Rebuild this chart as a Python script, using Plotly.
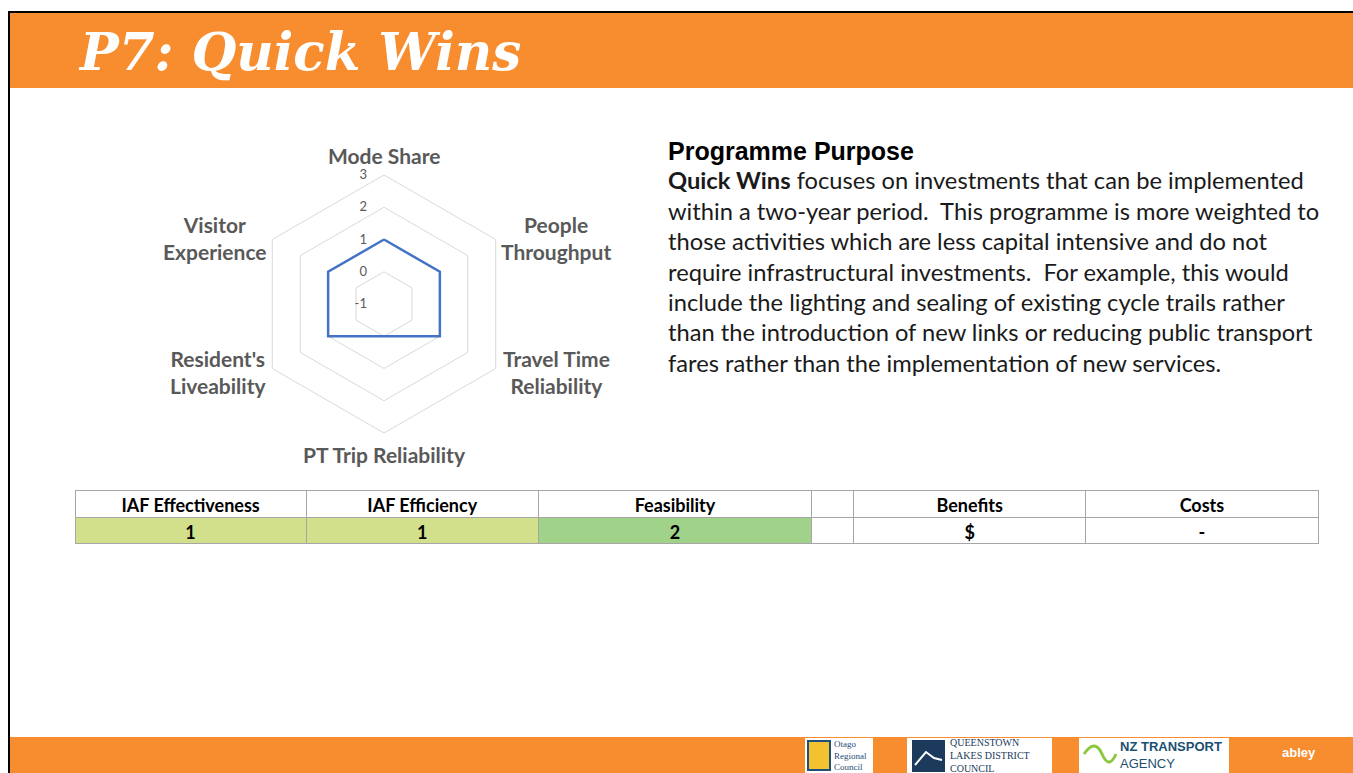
import plotly.graph_objects as go

# radar data
categories = ["Mode Share", "People Throughput", "Travel Time Reliability",
              "PT Trip Reliability", "Resident's Liveability", "Visitor Experience"]
category_labels = ["Mode Share", "People<br>Throughput", "Travel Time<br>Reliability",
                   "PT Trip Reliability", "Resident's<br>Liveability", "Visitor<br>Experience"]
scores = [1, 1, 1, 0, 1, 1]
radial_ticks = [-1, 0, 1, 2, 3]
radial_ticktext = ["-1", "0", "1", "2", "3"]

# assessment table
table_headers = ["IAF Effectiveness", "IAF Efficiency", "Feasibility", "", "Benefits", "Costs"]
table_values = ["1", "1", "2", "", "$", "-"]
table_fills = ["#d3e08b", "#d3e08b", "#a1d28a", "white", "white", "white"]

title_text = "P7: Quick Wins"
purpose_title = "Programme Purpose"
purpose_lines = [
    "<b>Quick Wins</b> focuses on investments that can be implemented",
    "within a two-year period.  This programme is more weighted to",
    "those activities which are less capital intensive and do not",
    "require infrastructural investments.  For example, this would",
    "include the lighting and sealing of existing cycle trails rather",
    "than the introduction of new links or reducing public transport",
    "fares rather than the implementation of new services.",
]

W, H = 1353, 773
ORANGE = "#f78d2f"
GREY_TXT = "#595959"


def px(x):
    return x / W


def py(y):
    return 1 - y / H


fig = go.Figure()

fig.add_trace(go.Scatterpolar(
    r=scores + scores[:1],
    theta=categories + categories[:1],
    mode="lines",
    line=dict(color="#4472c4", width=2.5),
    hoverinfo="skip",
    showlegend=False,
))

fig.add_trace(go.Table(
    domain=dict(x=[px(75), px(1318)], y=[py(545), py(490)]),
    columnwidth=[231, 232, 273, 42, 232, 232],
    header=dict(
        values=table_headers,
        fill_color="white",
        line_color="#a6a6a6",
        align="center",
        height=27,
        font=dict(family="Lato", size=18, color="black", weight="bold"),
    ),
    cells=dict(
        values=[[v] for v in table_values],
        fill_color=[[c] for c in table_fills],
        line_color="#a6a6a6",
        align="center",
        height=26,
        font=dict(family="Lato", size=18, color="black", weight="bold"),
    ),
))

fig.update_layout(
    width=W, height=H,
    margin=dict(l=0, r=0, t=0, b=0),
    paper_bgcolor="white",
    showlegend=False,
    polar=dict(
        domain=dict(x=[px(255), px(513)], y=[py(433), py(175)]),
        bgcolor="white",
        gridshape="linear",
        radialaxis=dict(
            range=[-1, 3], tickvals=radial_ticks, ticktext=radial_ticktext,
            angle=90, tickangle=90, side="counterclockwise",
            showline=False, ticks="outside", ticklen=12, tickcolor="rgba(0,0,0,0)",
            gridcolor="#d9d9d9", gridwidth=1,
            tickfont=dict(family="Lato", size=13, color=GREY_TXT),
        ),
        angularaxis=dict(
            rotation=90, direction="clockwise",
            showgrid=False, showline=True, linecolor="#d9d9d9", linewidth=1,
            ticks="", showticklabels=False,
        ),
    ),
)

# spoke labels, centred like the original chart
label_pos = [(384, 155), (556, 238), (556, 372), (384, 455), (218, 372), (215, 238)]
for lab, (lx, ly) in zip(category_labels, label_pos):
    fig.add_annotation(xref="paper", yref="paper", x=px(lx), y=py(ly), xanchor="center",
                       yanchor="middle", align="center", text=lab, showarrow=False,
                       font=dict(family="Lato", size=21, color=GREY_TXT, weight="bold"))

# slide frame, header and footer bars
fig.add_shape(type="rect", xref="paper", yref="paper", x0=px(10), x1=1, y0=py(88), y1=py(13),
              fillcolor=ORANGE, line_width=0, layer="below")
fig.add_shape(type="rect", xref="paper", yref="paper", x0=px(10), x1=1, y0=0, y1=py(737),
              fillcolor=ORANGE, line_width=0, layer="below")
fig.add_shape(type="line", xref="paper", yref="paper", x0=px(8), x1=1, y0=py(12), y1=py(12),
              line=dict(color="black", width=2))
fig.add_shape(type="line", xref="paper", yref="paper", x0=px(9), x1=px(9), y0=0, y1=py(12),
              line=dict(color="black", width=2))

fig.add_annotation(xref="paper", yref="paper", x=px(76), y=py(52), xanchor="left", yanchor="middle",
                   text="<b><i>" + title_text + "</i></b>", showarrow=False,
                   font=dict(family="DejaVu Serif", size=51.5, color="white"))

fig.add_annotation(xref="paper", yref="paper", x=px(666), y=py(151), xanchor="left", yanchor="middle",
                   text="<b>" + purpose_title + "</b>", showarrow=False,
                   font=dict(family="Liberation Sans", size=25, color="black"))
for i, line in enumerate(purpose_lines):
    fig.add_annotation(xref="paper", yref="paper", x=px(666), y=py(180 + i * 30.5),
                       xanchor="left", yanchor="middle", text=line, showarrow=False,
                       font=dict(family="Lato", size=23.7, color="#1a1a1a"))

# footer logos (approximations)
logos = [
    (805, 873, 832, "Otago<br>Regional<br>Council", "Liberation Serif", 9, "#1f4e79"),
    (907, 1052, 948, "QUEENSTOWN<br>LAKES DISTRICT<br>COUNCIL", "Liberation Serif", 10, "#1b3a5c"),
    (1079, 1229, 1118, "<b>NZ TRANSPORT</b><br>AGENCY", "Liberation Sans", 13, "#1b4f72"),
]
for x0, x1, tx, txt, fam, size, col in logos:
    fig.add_shape(type="rect", xref="paper", yref="paper", x0=px(x0), x1=px(x1), y0=0, y1=py(738),
                  fillcolor="white", line_width=0)
    fig.add_annotation(xref="paper", yref="paper", x=px(tx), y=py(755), xanchor="left",
                       yanchor="middle", align="left", text=txt, showarrow=False,
                       font=dict(family=fam, size=size, color=col))
# small emblems next to the logo texts
fig.add_shape(type="rect", xref="paper", yref="paper", x0=px(808), x1=px(830), y0=py(770), y1=py(741),
              fillcolor="#f2c230", line=dict(color="#1f4e79", width=2))
fig.add_shape(type="rect", xref="paper", yref="paper", x0=px(912), x1=px(945), y0=py(772), y1=py(740),
              fillcolor="#1b3a5c", line_width=0)
fig.add_shape(type="path", xref="paper", yref="paper",
              path=f"M {px(915)},{py(765)} L {px(926)},{py(752)} L {px(934)},{py(758)} L {px(942)},{py(760)}",
              line=dict(color="white", width=2))
fig.add_shape(type="path", xref="paper", yref="paper",
              path=f"M {px(1084)},{py(754)} Q {px(1095)},{py(738)} {px(1102)},{py(754)} T {px(1116)},{py(754)}",
              line=dict(color="#8dc63f", width=3))
fig.add_annotation(xref="paper", yref="paper", x=px(1280), y=py(752), xanchor="left", yanchor="middle",
                   text="<b>abley</b>", showarrow=False,
                   font=dict(family="Liberation Sans", size=13, color="white"))

fig.write_html("out.html", config={"displayModeBar": False},
               post_script="document.body.style.margin='0px';")
